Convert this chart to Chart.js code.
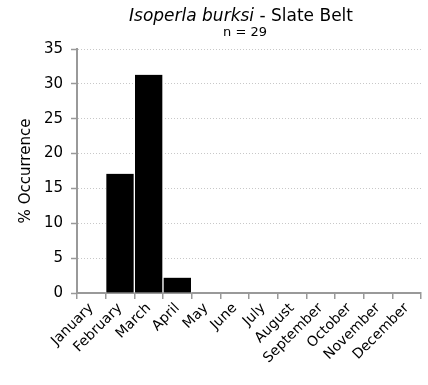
<!DOCTYPE html>
<html><head><meta charset="utf-8">
<script src="https://cdn.jsdelivr.net/npm/chart.js@4/dist/chart.umd.min.js"></script>
<style>html,body{margin:0;padding:0;background:#fff}#wrap{width:428px;height:385px}</style>
</head><body><div id="wrap"><canvas id="c" width="428" height="385"></canvas></div>
<script>
const months = ["January","February","March","April","May","June","July","August","September","October","November","December"];
const occurrence = [0, 17.1, 31.3, 2.2, 0, 0, 0, 0, 0, 0, 0, 0];
const yTicks = [0, 5, 10, 15, 20, 25, 30, 35];
const titleItalic = "Isoperla burksi";
const titleRest = " - Slate Belt";
const subtitle = "n = 29";

const FONT = "'DejaVu Sans', Verdana, sans-serif";

const titlePlugin = {
  id: 'mixedTitle',
  afterDraw(chart) {
    const ctx = chart.ctx;
    const cx = 241;
    ctx.save();
    ctx.fillStyle = '#000';
    ctx.textBaseline = 'alphabetic';
    ctx.font = "italic 17px " + FONT;
    const w1 = ctx.measureText(titleItalic).width;
    ctx.font = "17px " + FONT;
    const w2 = ctx.measureText(titleRest).width;
    let x = cx - (w1 + w2) / 2;
    ctx.textAlign = 'left';
    ctx.font = "italic 17px " + FONT;
    ctx.fillText(titleItalic, x, 21);
    ctx.font = "17px " + FONT;
    ctx.fillText(titleRest, x + w1, 21);
    ctx.font = "13px " + FONT;
    ctx.textAlign = 'center';
    ctx.fillText(subtitle, 245, 36);
    ctx.restore();
  }
};

new Chart(document.getElementById('c'), {
  type: 'bar',
  data: {
    labels: months,
    datasets: [{
      data: occurrence,
      backgroundColor: '#000',
      borderColor: '#fff',
      borderWidth: {left: 1, right: 1, top: 0, bottom: 0},
      borderSkipped: 'start',
      barPercentage: 1,
      categoryPercentage: 1
    }]
  },
  options: {
    responsive: false,
    animation: false,
    devicePixelRatio: 1,
    layout: {padding: {top: 49, right: 7, left: 0, bottom: 0}},
    plugins: {legend: {display: false}, title: {display: false}, tooltip: {enabled: false}},
    scales: {
      x: {
        offset: true,
        grid: {display: true, drawOnChartArea: false, drawTicks: true, tickLength: 6, color: '#999', lineWidth: 1.5, offset: true},
        border: {display: true, color: '#999', width: 2},
        ticks: {color: '#000', font: {family: FONT, size: 14}, maxRotation: 45, minRotation: 45, autoSkip: false, padding: 1},
        afterFit(s) { s.height = 92; }
      },
      y: {
        min: 0, max: 35,
        afterBuildTicks(s) { s.ticks = yTicks.map(v => ({value: v})); },
        grid: {color: '#c8c8c8', lineWidth: 1, drawTicks: true, tickLength: 6, tickColor: '#999', tickWidth: 1.5},
        border: {display: true, color: '#999', width: 2, dash: [1, 2]},
        ticks: {color: '#000', font: {family: FONT, size: 15}, padding: 8},
        title: {display: true, text: '% Occurrence', color: '#000', font: {family: FONT, size: 15}, padding: {top: 17, bottom: 0}},
        afterFit(s) { s.width = 77; }
      }
    }
  },
  plugins: [titlePlugin]
});
</script></body></html>
